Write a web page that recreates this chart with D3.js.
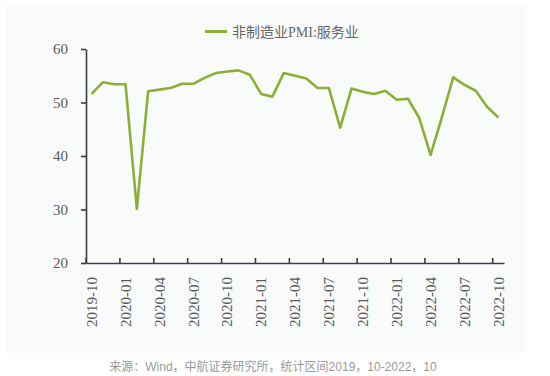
<!DOCTYPE html>
<html><head><meta charset="utf-8">
<script src="https://cdn.jsdelivr.net/npm/d3@7"></script>
<style>
html,body{margin:0;padding:0;background:#fff;}
svg{display:block;}
</style>
</head><body>
<svg id="c" width="550" height="376"></svg>
<script>
const months = ["2019-10","2019-11","2019-12","2020-01","2020-02","2020-03","2020-04","2020-05","2020-06","2020-07","2020-08","2020-09","2020-10","2020-11","2020-12","2021-01","2021-02","2021-03","2021-04","2021-05","2021-06","2021-07","2021-08","2021-09","2021-10","2021-11","2021-12","2022-01","2022-02","2022-03","2022-04","2022-05","2022-06","2022-07","2022-08","2022-09","2022-10"];
const services = [51.6,53.8,53.4,53.4,30.1,52.1,52.4,52.7,53.5,53.5,54.6,55.5,55.8,56.0,55.2,51.6,51.1,55.5,55.0,54.5,52.7,52.7,45.3,52.6,52.0,51.6,52.2,50.5,50.7,47.1,40.2,47.2,54.7,53.3,52.2,49.2,47.2];
const yTicks = [20,30,40,50,60];
const xTickLabels = months.filter((d,i)=>i%3===0);
const seriesName = "非制造业PMI:服务业";
const source = "来源：Wind，中航证券研究所，统计区间2019，10-2022，10";

const svg = d3.select("#c");
const serif = "'Liberation Serif','Times New Roman','Noto Sans CJK SC',serif";

svg.append("rect").attr("x",6).attr("y",4).attr("width",520).attr("height",349).attr("fill","#f9fbfb");

const x = d3.scaleBand().domain(months).range([86,504]).padding(0);
const y = d3.scaleLinear().domain([20,60]).range([263,49]);
const bw = x.bandwidth();
const axisColor = "#3a3a48";
const labelColor = "#5a5a5a";

// Y axis
const ya = svg.append("g").attr("transform","translate(86,0)")
  .call(d3.axisLeft(y).tickValues(yTicks).tickSize(5).tickSizeOuter(0).tickPadding(13).tickFormat(d3.format("d")));
ya.select(".domain").attr("stroke",axisColor).attr("stroke-width",1.6);
ya.selectAll(".tick line").attr("stroke",axisColor).attr("stroke-width",1.6);
ya.selectAll(".tick text").attr("fill",labelColor).style("font-family",serif).style("font-size","15px");

// X axis
const xa = svg.append("g").attr("transform","translate(0,263)")
  .call(d3.axisBottom(x).tickValues(xTickLabels).tickSize(0).tickSizeOuter(0));
xa.select(".domain").attr("stroke",axisColor).attr("stroke-width",1.6);
xa.selectAll(".tick text")
  .attr("fill",labelColor).style("font-family",serif).style("font-size","15px")
  .attr("text-anchor","end").attr("transform","rotate(-90)")
  .attr("x",-14).attr("y",0).attr("dy","0.35em");
xa.selectAll(".tick").append("line")
  .attr("x1",-bw/2).attr("x2",-bw/2).attr("y1",0).attr("y2",-5)
  .attr("stroke",axisColor).attr("stroke-width",1.6);

// line
const line = d3.line().x((d,i)=>x(months[i])+bw/2).y(d=>y(d));
svg.append("path").datum(services).attr("d",line)
  .attr("fill","none").attr("stroke","#8caf35").attr("stroke-width",2.6).attr("stroke-linejoin","round");

// legend
svg.append("line").attr("x1",205).attr("x2",227).attr("y1",31.5).attr("y2",31.5)
  .attr("stroke","#8caf35").attr("stroke-width",3);
svg.append("text").attr("x",232).attr("y",36.5).text(seriesName)
  .attr("fill","#666").style("font-family",serif).style("font-size","14px");

// source
svg.append("text").attr("x",273).attr("y",371).attr("text-anchor","middle").text(source)
  .attr("fill","#999").style("font-family","'Liberation Sans','Noto Sans CJK SC',sans-serif").style("font-size","12px");
</script>
</body></html>
